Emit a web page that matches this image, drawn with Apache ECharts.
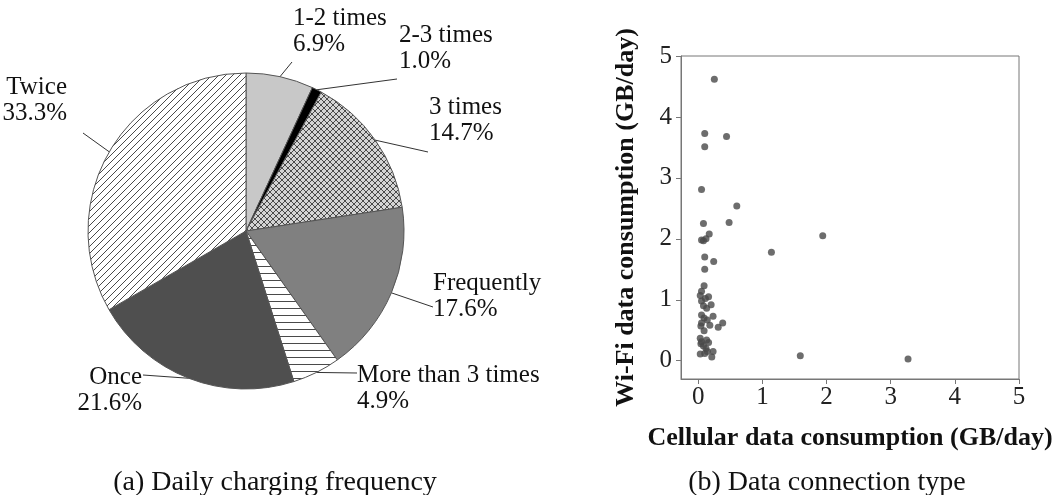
<!DOCTYPE html>
<html>
<head>
<meta charset="utf-8">
<script src="https://cdn.jsdelivr.net/npm/echarts@6/dist/echarts.min.js"></script>
<style>
  html, body { margin: 0; padding: 0; background: #fff; }
  #main { width: 1054px; height: 495px; }
</style>
</head>
<body>
<div id="main"></div>
<script>
// pie: daily charging frequency (%)
const sliceNames = ['1-2 times', '2-3 times', '3 times', 'Frequently', 'More than 3 times', 'Once', 'Twice'];
const sliceValues = [6.9, 1.0, 14.7, 17.6, 4.9, 21.6, 33.3];

// scatter: cellular vs wifi (GB/day)
const cellular = [0.25, 0.10, 0.44, 0.10, 0.05, 0.60, 0.08, 0.48, 0.17, 0.12, 0.05, 0.08, 1.94, 1.14, 0.10, 0.24, 0.10,
    0.09, 0.05, 0.03, 0.16, 0.11, 0.05, 0.20, 0.08, 0.13, 0.05, 0.23, 0.09, 0.14, 0.05, 0.38, 0.18, 0.31, 0.04, 0.09,
    0.03, 0.13, 0.05, 0.16, 0.08, 0.04, 0.23, 0.03, 0.10, 0.14, 0.21, 0.12, 1.59, 3.27];
const wifi = [4.62, 3.73, 3.68, 3.51, 2.81, 2.54, 2.25, 2.27, 2.08, 2.00, 1.98, 1.97, 2.05, 1.78, 1.70, 1.63, 1.50,
    1.23, 1.14, 1.07, 1.05, 1.02, 0.98, 0.92, 0.90, 0.86, 0.75, 0.73, 0.70, 0.67, 0.62, 0.62, 0.58, 0.55, 0.57, 0.49,
    0.37, 0.34, 0.31, 0.30, 0.24, 0.28, 0.15, 0.11, 0.12, 0.15, 0.06, 0.20, 0.08, 0.03];
const tickValues = [0, 1, 2, 3, 4, 5];

const serif = '"Liberation Serif", "DejaVu Serif", serif';

// hatch fills drawn on small canvases
function makePattern(bg, size, draw) {
    let c = document.createElement('canvas');
    c.width = size;
    c.height = size;
    let ctx = c.getContext('2d');
    ctx.fillStyle = bg;
    ctx.fillRect(0, 0, size, size);
    ctx.strokeStyle = '#4a4a4a';
    ctx.lineWidth = 1;
    draw(ctx, size);
    return { image: c, repeat: 'repeat' };
}
function fwd(ctx, s) {
    ctx.beginPath();
    ctx.moveTo(-1, s + 1); ctx.lineTo(s + 1, -1);
    ctx.moveTo(-1, 1); ctx.lineTo(1, -1);
    ctx.moveTo(s - 1, s + 1); ctx.lineTo(s + 1, s - 1);
    ctx.stroke();
}
function back(ctx, s) {
    ctx.beginPath();
    ctx.moveTo(-1, -1); ctx.lineTo(s + 1, s + 1);
    ctx.moveTo(s - 1, -1); ctx.lineTo(s + 1, 1);
    ctx.moveTo(-1, s - 1); ctx.lineTo(1, s + 1);
    ctx.stroke();
}

const sliceFills = [
    '#c8c8c8',
    '#000000',
    makePattern('#d4d4d4', 6, (ctx, s) => { fwd(ctx, s); back(ctx, s); }),
    '#808080',
    makePattern('#ffffff', 7, (ctx, s) => { ctx.beginPath(); ctx.moveTo(0, 0.5); ctx.lineTo(s, 0.5); ctx.stroke(); }),
    '#4f4f4f',
    makePattern('#ffffff', 7, fwd)
];

// where each label sits: [x, y(top), align, line end x, line end y]
const labelSpots = [
    [293, 5, 'left', 292, 62],
    [399, 22, 'left', 397, 79],
    [429, 94, 'left', 428, 152],
    [433, 270, 'left', 433, 307],
    [357, 362, 'left', 357, 373],
    [142, 364, 'right', 143, 375],
    [67, 74, 'right', 83, 133]
];

let myChart = echarts.init(document.getElementById('main'));

let option = {
    animation: false,
    backgroundColor: '#fff',
    title: [{
        text: '(a) Daily charging frequency',
        left: 270,
        top: 464,
        textAlign: 'center',
        textStyle: { fontFamily: serif, fontSize: 28, fontWeight: 'normal', color: '#111' }
    }, {
        text: '(b) Data connection type',
        left: 822,
        top: 464,
        textAlign: 'center',
        textStyle: { fontFamily: serif, fontSize: 28, fontWeight: 'normal', color: '#111' }
    }],
    grid: {
        left: 681,
        top: 56,
        right: 35,
        bottom: 116,
        outerBoundsMode: 'none',
        show: true,
        borderColor: '#777',
        borderWidth: 1
    },
    xAxis: {
        type: 'value',
        min: -0.27,
        max: 5,
        name: 'Cellular data consumption (GB/day)',
        nameLocation: 'middle',
        nameGap: 46,
        nameTextStyle: { fontFamily: serif, fontSize: 26, fontWeight: 'bold', color: '#111' },
        axisLine: { show: true, onZero: false, lineStyle: { color: '#777' } },
        axisTick: { show: true, length: 5, customValues: tickValues, lineStyle: { color: '#777' } },
        axisLabel: { customValues: tickValues, fontFamily: serif, fontSize: 25, color: '#222', margin: 6 },
        splitLine: { show: false }
    },
    yAxis: {
        type: 'value',
        min: -0.3,
        max: 5,
        name: 'Wi-Fi data consumption (GB/day)',
        nameLocation: 'middle',
        nameRotate: 90,
        nameGap: 42,
        nameTextStyle: { fontFamily: serif, fontSize: 26, fontWeight: 'bold', color: '#111' },
        axisLine: { show: true, onZero: false, lineStyle: { color: '#777' } },
        axisTick: { show: true, length: 5, customValues: tickValues, lineStyle: { color: '#777' } },
        axisLabel: { customValues: tickValues, fontFamily: serif, fontSize: 25, color: '#222', margin: 9 },
        splitLine: { show: false }
    },
    series: [{
        type: 'pie',
        center: [246, 231],
        radius: 158,
        startAngle: 90,
        clockwise: true,
        data: sliceNames.map((n, i) => ({
            name: n,
            value: sliceValues[i],
            itemStyle: { color: sliceFills[i] }
        })),
        itemStyle: { borderColor: '#555', borderWidth: 1 },
        label: {
            show: true,
            position: 'outside',
            formatter: p => p.name + '\n' + p.value.toFixed(1) + '%',
            fontFamily: serif,
            fontSize: 25,
            lineHeight: 26,
            color: '#111'
        },
        labelLine: { show: true, length: 10, length2: 10, lineStyle: { color: '#333', width: 1 } },
        labelLayout: function (params) {
            let s = labelSpots[params.dataIndex];
            let start = params.labelLinePoints ? params.labelLinePoints[0] : [s[3], s[4]];
            return {
                x: s[0],
                y: s[1],
                align: s[2],
                verticalAlign: 'top',
                labelLinePoints: [start, [s[3], s[4]], [s[3], s[4]]]
            };
        },
        emphasis: { disabled: true }
    }, {
        type: 'scatter',
        symbolSize: 7,
        itemStyle: { color: '#484848' },
        data: cellular.map((c, i) => [c, wifi[i]])
    }]
};

myChart.setOption(option);
</script>
</body>
</html>
